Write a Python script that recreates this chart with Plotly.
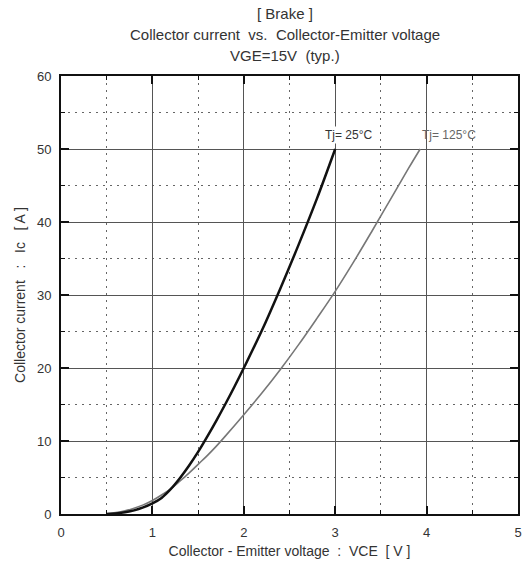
import plotly.graph_objects as go

# Collector current vs collector-emitter voltage, VGE = 15 V (typ.)
vce_25 = [0.5, 0.6, 0.7, 0.8, 0.9, 1.0, 1.1, 1.2, 1.3, 1.4, 1.5, 1.6, 1.7, 1.8, 1.9, 2.0,
          2.2, 2.4, 2.6, 2.8, 3.0]
ic_25 = [0.0, 0.08, 0.25, 0.5, 0.9, 1.45, 2.2, 3.4, 4.9, 6.6, 8.5, 10.6, 12.8, 15.1, 17.5, 20.0,
         25.2, 30.9, 36.9, 43.2, 50.0]

vce_125 = [0.5, 0.6, 0.7, 0.8, 0.9, 1.0, 1.1, 1.2, 1.3, 1.4, 1.5, 1.6, 1.7, 1.8, 2.0,
           2.2, 2.4, 2.6, 2.8, 3.0, 3.2, 3.4, 3.6, 3.8, 3.93]
ic_125 = [0.03, 0.2, 0.45, 0.8, 1.25, 1.85, 2.6, 3.45, 4.5, 5.6, 6.8, 8.0, 9.3, 10.7, 13.6,
          16.6, 19.8, 23.2, 26.8, 30.5, 34.5, 38.7, 43.0, 47.3, 50.0]

x_ticks = [0, 1, 2, 3, 4, 5]
y_ticks = [0, 10, 20, 30, 40, 50, 60]

title_lines = ["[ Brake ]", "Collector current  vs.  Collector-Emitter voltage", "VGE=15V  (typ.)"]

FONT = "Liberation Sans, Arial, sans-serif"
TXT = "#333333"

fig = go.Figure()
fig.add_trace(go.Scatter(x=vce_125, y=ic_125, mode="lines",
                         line=dict(color="#777777", width=1.6, shape="spline", smoothing=1.0),
                         hoverinfo="skip", showlegend=False))
fig.add_trace(go.Scatter(x=vce_25, y=ic_25, mode="lines",
                         line=dict(color="#111111", width=2.5, shape="spline", smoothing=1.0),
                         hoverinfo="skip", showlegend=False))

axis_common = dict(
    showline=True, linecolor="#111111", linewidth=2, mirror="ticks",
    ticks="inside", ticklen=8, tickcolor="#111111", tickwidth=2,
    showgrid=True, gridcolor="#555555", gridwidth=1.2,
    zeroline=False,
    tickfont=dict(family=FONT, size=13, color=TXT),
    ticklabelstandoff=5,
    fixedrange=True,
)
minor_common = dict(showgrid=True, griddash="2px,5px", gridcolor="#666666", gridwidth=1,
                    ticks="inside", ticklen=4, tickcolor="#111111", tickwidth=1)

fig.update_xaxes(
    range=[0, 5], tickvals=x_ticks, ticktext=[str(v) for v in x_ticks],
    minor=dict(dtick=0.5, **minor_common),
    title=dict(text="Collector - Emitter voltage  :  VCE  [ V ]",
               font=dict(family=FONT, size=14, color=TXT), standoff=8),
    **axis_common,
)
fig.update_yaxes(
    range=[0, 60], tickvals=y_ticks, ticktext=[str(v) for v in y_ticks],
    minor=dict(dtick=5, **minor_common),
    title=dict(text="Collector current   :   Ic   [ A ]",
               font=dict(family=FONT, size=14, color=TXT), standoff=8),
    **axis_common,
)

# Stacked three-line heading
for i, line in enumerate(title_lines):
    fig.add_annotation(x=0.49, y=1.0, xref="paper", yref="paper",
                       xanchor="center", yanchor="bottom",
                       yshift=52 - 21 * i, showarrow=False,
                       text=line, font=dict(family=FONT, size=15, color=TXT))

# Curve labels at the top end of each curve
fig.add_annotation(x=3.14, y=51.9, xref="x", yref="y", showarrow=False,
                   text="Tj= 25°C", bgcolor="white",
                   font=dict(family=FONT, size=12, color=TXT))
fig.add_annotation(x=3.93, y=51.9, xref="x", yref="y", showarrow=False, xanchor="left",
                   text="Tj= 125°C",
                   font=dict(family=FONT, size=12, color="#666666"))

fig.update_layout(
    width=524, height=568,
    margin=dict(l=61, r=2, t=76, b=54),
    paper_bgcolor="white", plot_bgcolor="white",
    font=dict(family=FONT, color=TXT),
)

fig.write_html("out.html")
